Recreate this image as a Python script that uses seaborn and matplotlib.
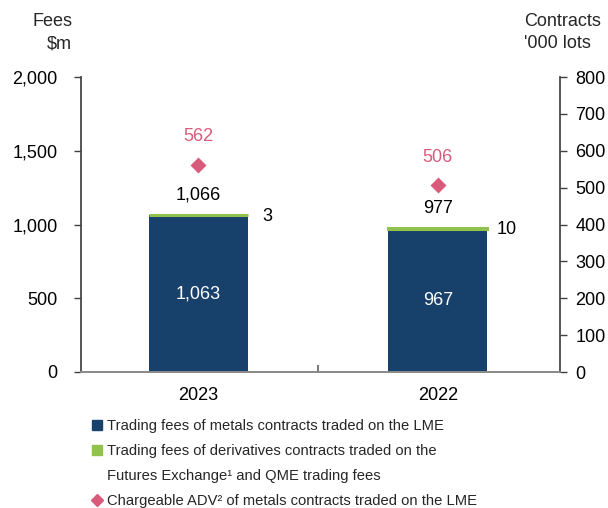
import numpy as np
import pandas as pd
import matplotlib.pyplot as plt
import seaborn as sns
from matplotlib.lines import Line2D

# chart style
sns.set_theme(style="white")
plt.rcParams["font.family"] = ["Liberation Sans", "DejaVu Sans"]

# data
years = ["2023", "2022"]
lme_fees = [1063, 967]
other_fees = [3, 10]
total_fees = [1066, 977]
adv_lots = [562, 506]

navy = "#17416B"
green = "#92C24E"
pink = "#D95B7C"

df = pd.DataFrame({"year": years, "lme": lme_fees, "other": other_fees,
                   "total": total_fees, "adv": adv_lots})

fig = plt.figure(figsize=(6.08, 5.08), dpi=100)
ax = fig.add_axes([81 / 608, 136 / 508, 479 / 608, 295 / 508])

# stacked bars: LME fees at the bottom, other fees on top
sns.barplot(data=df, x="year", y="lme", order=years, color=navy,
            width=0.413, saturation=1, linewidth=0, ax=ax, zorder=2)
sns.barplot(data=df, x="year", y="other", order=years, color=green,
            width=0.413, saturation=1, bottom=df["lme"].values,
            edgecolor=green, linewidth=2.2, ax=ax, zorder=3)

ax.set_ylim(0, 2000)
ax.set_xlim(-0.49, 1.51)
ax.set_yticks(range(0, 2001, 500))
ax.set_yticklabels([f"{v:,}" for v in range(0, 2001, 500)])
ax.set_xlabel("")
ax.set_ylabel("")

# data labels
for i in range(len(years)):
    ax.annotate(f"{total_fees[i]:,}", (i, total_fees[i]), xytext=(0, 8),
                textcoords="offset points", ha="center", va="bottom",
                fontsize=13, color="black")
    ax.annotate(f"{lme_fees[i]:,}", (i, lme_fees[i] / 2), ha="center",
                va="center", fontsize=13, color="white")
    ax.annotate(f"{other_fees[i]}", (i + 0.207, total_fees[i]), xytext=(14, -1),
                textcoords="offset points", ha="center", va="center",
                fontsize=13, color="black")

# ADV on the right axis
ax2 = ax.twinx()
sns.pointplot(data=df, x="year", y="adv", order=years, color=pink,
              marker="D", linestyle="none", markersize=6.5, ax=ax2)
ax2.set_ylim(0, 800)
ax2.set_xlim(-0.49, 1.51)
ax2.set_yticks(range(0, 801, 100))
ax2.set_ylabel("")
ax2.set_xlabel("")
for i in range(len(years)):
    ax2.annotate(f"{adv_lots[i]}", (i, adv_lots[i]), xytext=(0, 14),
                 textcoords="offset points", ha="center", va="bottom",
                 fontsize=13, color=pink)

# spines and ticks
for a in (ax, ax2):
    a.spines["top"].set_visible(False)
    a.spines["left"].set_color("#404040")
    a.spines["right"].set_color("#404040")
    a.spines["bottom"].set_color("#8a8a8a")
    a.spines["bottom"].set_linewidth(1.3)
    a.grid(False)
ax2.spines["left"].set_visible(False)
ax.spines["right"].set_visible(False)

ax.tick_params(axis="y", left=True, direction="out", length=5, width=1,
               color="#404040", labelsize=13, pad=12, labelcolor="black")
ax2.tick_params(axis="y", right=True, direction="out", length=5, width=1,
                color="#404040", labelsize=13, pad=6, labelcolor="black")
ax.tick_params(axis="x", bottom=False, labelsize=13, pad=5, labelcolor="black")
ax2.tick_params(axis="x", bottom=False, labelbottom=False)
ax.set_xticks([0.5], minor=True)
ax.tick_params(axis="x", which="minor", bottom=True, direction="in",
               length=5, width=1.3, color="#6a6a6a")

# axis titles
fig.text(72 / 608, 1 - 21 / 508, "Fees", ha="right", va="center", fontsize=13)
fig.text(72 / 608, 1 - 44 / 508, "$m", ha="right", va="center", fontsize=13)
fig.text(524 / 608, 1 - 21 / 508, "Contracts", ha="left", va="center", fontsize=13)
fig.text(524 / 608, 1 - 44 / 508, "'000 lots", ha="left", va="center", fontsize=13)

# legend; the second entry wraps onto a line with no marker
handles = [
    Line2D([], [], marker="s", color=navy, linestyle="none", markersize=6.5),
    Line2D([], [], marker="s", color=green, linestyle="none", markersize=6.5),
    Line2D([], [], linestyle="none"),
    Line2D([], [], marker="D", color=pink, linestyle="none", markersize=6.5),
]
labels = [
    "Trading fees of metals contracts traded on the LME",
    "Trading fees of derivatives contracts traded on the",
    "Futures Exchange\u00b9 and QME trading fees",
    "Chargeable ADV\u00b2 of metals contracts traded on the LME",
]
leg = fig.legend(handles, labels, loc="upper left",
                 bbox_to_anchor=(91 / 608, 1 - 419 / 508), frameon=False,
                 fontsize=10.6, handlelength=0.75, handletextpad=0.35,
                 labelspacing=0.75, borderpad=0, borderaxespad=0)

fig.savefig("out.png", dpi=100)
